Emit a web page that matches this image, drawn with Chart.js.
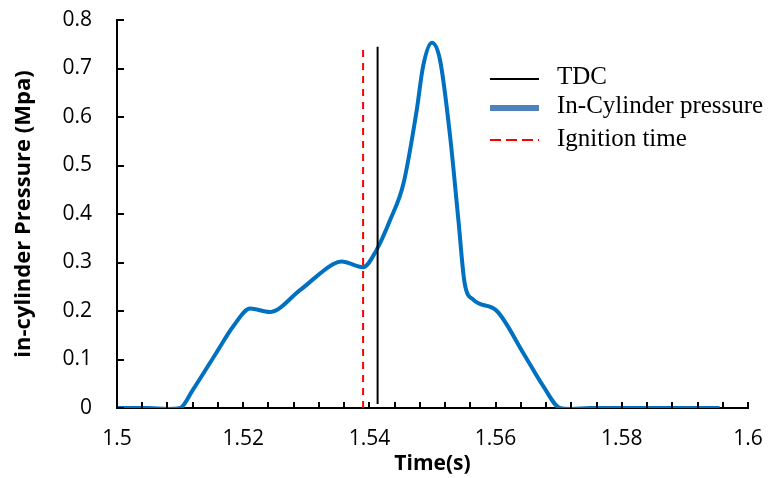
<!DOCTYPE html>
<html>
<head>
<meta charset="utf-8">
<script src="https://cdn.jsdelivr.net/npm/chart.js@4/dist/chart.umd.min.js"></script>
<style>
  html, body { margin: 0; padding: 0; background: #fff; }
  canvas { display: block; }
</style>
</head>
<body>
<canvas id="c" width="768" height="478"></canvas>
<script>
// ---- data ----
const timeS = [1.500, 1.505, 1.508, 1.510, 1.512, 1.5158, 1.5184, 1.5211, 1.5242, 1.529,
               1.5343, 1.5356, 1.539, 1.5411, 1.5433, 1.5454, 1.5475, 1.5485, 1.5499, 1.5512,
               1.5528, 1.5541, 1.5551, 1.5565, 1.5602, 1.5644, 1.5676, 1.5702, 1.572, 1.575, 1.5955];
const pressure = [0, 0, -0.002, 0, 0.037, 0.115, 0.168, 0.205, 0.198, 0.243,
                  0.297, 0.302, 0.290, 0.325, 0.388, 0.463, 0.614, 0.704, 0.753, 0.717,
                  0.559, 0.388, 0.257, 0.223, 0.200, 0.113, 0.044, 0.000, -0.002, 0, 0];
const tdcTime = 1.5413;
const tdcRange = [0.008, 0.745];
const ignitionTime = 1.539;
const ignitionRange = [0, 0.745];
const xTickValues = [1.5, 1.52, 1.54, 1.56, 1.58, 1.6];
const xTickLabels = ["1.5", "1.52", "1.54", "1.56", "1.58", "1.6"];
const xMinorStep = 0.004;
const yTickValues = [0, 0.1, 0.2, 0.3, 0.4, 0.5, 0.6, 0.7, 0.8];
const yTickLabels = ["0", "0.1", "0.2", "0.3", "0.4", "0.5", "0.6", "0.7", "0.8"];
const seriesNames = ["TDC", "In-Cylinder pressure", "Ignition time"];

const pressurePts = timeS.map((t, i) => ({x: t, y: pressure[i]}));

const innerTicks = {
  id: 'innerTicks',
  afterDraw(chart) {
    const ctx = chart.ctx;
    const xs = chart.scales.x, ys = chart.scales.y;
    const a = chart.chartArea;
    ctx.save();
    ctx.strokeStyle = '#000';
    ctx.lineWidth = 2;
    ctx.beginPath();
    const n = Math.round((xs.max - xs.min) / xMinorStep);
    for (let i = 0; i <= n; i++) {
      const px = Math.round(xs.getPixelForValue(xs.min + i * xMinorStep));
      ctx.moveTo(px, a.bottom);
      ctx.lineTo(px, a.bottom - 6);
    }
    yTickValues.forEach(v => {
      const py = Math.round(ys.getPixelForValue(v));
      ctx.moveTo(a.left, py);
      ctx.lineTo(a.left + 7, py);
    });
    ctx.stroke();

    // legend
    const lx0 = 490, lx1 = 539, tx = 557;
    const rows = [
      {y: 79, color: '#000', w: 2, dash: [], text: seriesNames[0], base: 84},
      {y: 108, color: '#4F81BD', w: 6, dash: [], text: seriesNames[1], base: 113},
      {y: 140, color: '#FF0000', w: 2, dash: [11, 5], text: seriesNames[2], base: 146}
    ];
    ctx.font = '25px "Liberation Serif", "Times New Roman", serif';
    ctx.textBaseline = 'alphabetic';
    ctx.textAlign = 'left';
    rows.forEach(r => {
      ctx.beginPath();
      ctx.setLineDash(r.dash);
      ctx.strokeStyle = r.color;
      ctx.lineWidth = r.w;
      ctx.moveTo(lx0, r.y);
      ctx.lineTo(lx1, r.y);
      ctx.stroke();
      ctx.setLineDash([]);
      ctx.fillStyle = '#000';
      ctx.fillText(r.text, tx, r.base);
    });
    ctx.restore();
  }
};

new Chart(document.getElementById('c'), {
  type: 'line',
  data: {
    datasets: [
      {
        label: seriesNames[1],
        data: pressurePts,
        borderColor: '#0070C0',
        borderWidth: 4,
        pointRadius: 0,
        cubicInterpolationMode: 'monotone',
        fill: false,
        order: 3
      },
      {
        label: seriesNames[0],
        data: [{x: tdcTime, y: tdcRange[0]}, {x: tdcTime, y: tdcRange[1]}],
        borderColor: '#000',
        borderWidth: 2,
        pointRadius: 0,
        fill: false,
        order: 2
      },
      {
        label: seriesNames[2],
        data: [{x: ignitionTime, y: ignitionRange[0]}, {x: ignitionTime, y: ignitionRange[1]}],
        borderColor: '#FF0000',
        borderWidth: 2,
        borderDash: [7, 6],
        pointRadius: 0,
        fill: false,
        order: 1
      }
    ]
  },
  options: {
    responsive: false,
    animation: false,
    devicePixelRatio: 1,
    layout: { padding: { top: 20, right: 20, left: 0, bottom: 0 } },
    plugins: { legend: { display: false }, tooltip: { enabled: false } },
    scales: {
      x: {
        type: 'linear',
        min: 1.5, max: 1.6,
        afterBuildTicks: s => { s.ticks = xTickValues.map(v => ({value: v})); },
        afterFit: s => { s.height = 70; s.paddingLeft = 0; s.paddingRight = 0; },
        grid: { display: false, drawTicks: false },
        border: { display: true, color: '#000', width: 2 },
        ticks: {
          autoSkip: false, maxRotation: 0, padding: 18, color: '#000',
          font: { family: '"Open Sans", sans-serif', size: 21 },
          callback: (v) => {
            const i = xTickValues.findIndex(t => Math.abs(t - v) < 1e-9);
            return i >= 0 ? xTickLabels[i] : '';
          }
        },
        title: {
          display: true, text: 'Time(s)', color: '#000',
          font: { family: '"Open Sans", sans-serif', size: 21, weight: 'bold' },
          padding: { top: 0, bottom: 1 }
        }
      },
      y: {
        type: 'linear',
        min: 0, max: 0.8,
        afterBuildTicks: s => { s.ticks = yTickValues.map(v => ({value: v})); },
        afterFit: s => { s.width = 117; s.paddingTop = 0; s.paddingBottom = 0; },
        grid: { display: false, drawTicks: false },
        border: { display: true, color: '#000', width: 2 },
        ticks: {
          padding: 25, color: '#000',
          font: { family: '"Open Sans", sans-serif', size: 21 },
          callback: (v) => {
            const i = yTickValues.findIndex(t => Math.abs(t - v) < 1e-9);
            return i >= 0 ? yTickLabels[i] : '';
          }
        },
        title: {
          display: true, text: 'in-cylinder Pressure (Mpa)', color: '#000',
          font: { family: '"Open Sans", sans-serif', size: 22, weight: 'bold' },
          padding: { top: 11, bottom: 0 }
        }
      }
    }
  },
  plugins: [innerTicks]
});
</script>
</body>
</html>
